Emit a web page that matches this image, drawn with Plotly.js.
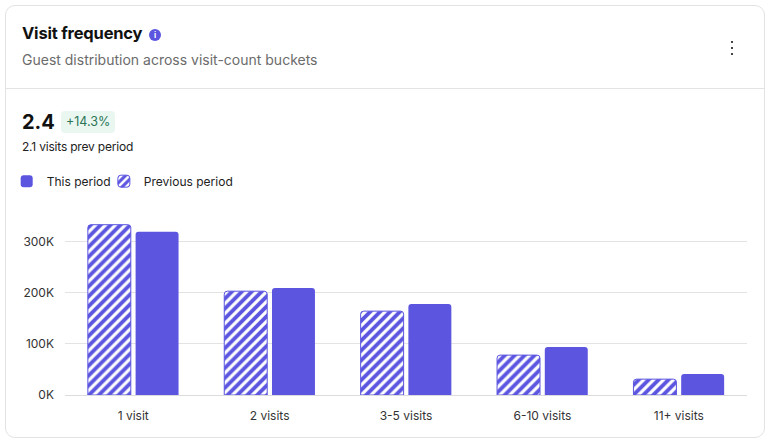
<!DOCTYPE html>
<html>
<head>
<meta charset="utf-8">
<script src="https://cdn.plot.ly/plotly-3.0.1.min.js"></script>
<style>
  html, body { margin:0; padding:0; background:#fff; width:772px; height:447px; overflow:hidden; font-family: Inter, "Noto Sans", sans-serif; }
  .card { position:absolute; left:5px; top:5px; width:760px; height:433px; border:1px solid #e3e3e3; border-radius:10px; box-sizing:border-box; background:#fff; }
  .title { position:absolute; left:16px; top:17px; font-size:16.5px; font-weight:700; color:#111; letter-spacing:-0.2px; }
  .info { position:absolute; left:143px; top:23px; width:12px; height:12px; border-radius:50%; background:#5b55e0; color:#fff; font-size:8px; font-weight:700; text-align:center; line-height:12px; }
  .sub { position:absolute; left:16px; top:45px; font-size:14px; color:#6b6b6b; }
  .kebab { position:absolute; left:725px; top:35px; width:3px; }
  .kebab i { display:block; width:2px; height:2px; background:#444; margin:0 0 4px 0; }
  .divider { position:absolute; left:0; right:0; top:82px; height:1px; background:#e3e3e3; }
  .big { position:absolute; left:16px; top:104px; font-size:20px; font-weight:700; color:#111; }
  .badge { position:absolute; left:55px; top:105px; height:22px; padding:0 5px; border-radius:4px; background:#eaf7f1; color:#2a7556; font-size:12.5px; line-height:22px; }
  .prev { position:absolute; left:16px; top:133px; font-size:12px; color:#222; letter-spacing:-0.2px; }
  #chart { position:absolute; left:6px; top:160px; width:760px; height:278px; }
</style>
</head>
<body>
<div class="card">
  <div class="title">Visit frequency</div>
  <div class="info">i</div>
  <div class="sub">Guest distribution across visit-count buckets</div>
  <div class="kebab"><i></i><i></i><i></i></div>
  <div class="divider"></div>
  <div class="big">2.4</div>
  <div class="badge">+14.3%</div>
  <div class="prev">2.1 visits prev period</div>
</div>
<div id="chart"></div>
<script>
const categories = ["1 visit", "2 visits", "3-5 visits", "6-10 visits", "11+ visits"];
const previousPeriod = [333000, 203000, 164000, 78000, 31000];
const thisPeriod = [319000, 209000, 178000, 94000, 41000];
const tickValues = [0, 100000, 200000, 300000];
const tickLabels = ["0K", "100K", "200K", "300K"];

const purple = "#5b55e0";

const traces = [
  {
    type: "bar", name: "Previous period", x: categories, y: previousPeriod,
    legend: "legend2",
    marker: { color: purple, line: { color: purple, width: 1 },
      pattern: { shape: "/", fgcolor: "#ffffff", bgcolor: purple, size: 7, solidity: 0.45, fillmode: "replace" } },
    hoverinfo: "x+y"
  },
  {
    type: "bar", name: "This period", x: categories, y: thisPeriod,
    legend: "legend",
    marker: { color: purple, line: { width: 0 } },
    hoverinfo: "x+y"
  }
];

const legendBase = { orientation: "h", xanchor: "left", yref: "container", yanchor: "top",
  font: { size: 12, color: "#222" }, itemclick: false, itemdoubleclick: false };

const layout = {
  width: 760, height: 278,
  margin: { l: 59, r: 19, t: 56, b: 43 },
  paper_bgcolor: "rgba(0,0,0,0)", plot_bgcolor: "rgba(0,0,0,0)",
  font: { family: "Inter, 'Noto Sans', sans-serif", size: 12, color: "#333" },
  barmode: "group", bargap: 0.3, bargroupgap: 0.1, barcornerradius: 3,
  showlegend: true,
  legend: Object.assign({}, legendBase, { x: -0.0855, y: 0.976 }),
  legend2: Object.assign({}, legendBase, { x: 0.057, y: 0.976 }),
  xaxis: { showgrid: false, zeroline: false, showline: false, ticks: "", ticklabelstandoff: 12,
    tickfont: { size: 12, color: "#333" } },
  yaxis: { range: [0, 350000], tickvals: tickValues, ticktext: tickLabels, showgrid: true,
    gridcolor: "#e3e3e3", gridwidth: 1, zeroline: true, zerolinecolor: "#dcdcdc", zerolinewidth: 1,
    showline: false, ticks: "", ticklabelstandoff: 10, tickfont: { size: 12, color: "#333" } }
};

Plotly.newPlot("chart", traces, layout, { displayModeBar: false, staticPlot: true });
</script>
</body>
</html>
